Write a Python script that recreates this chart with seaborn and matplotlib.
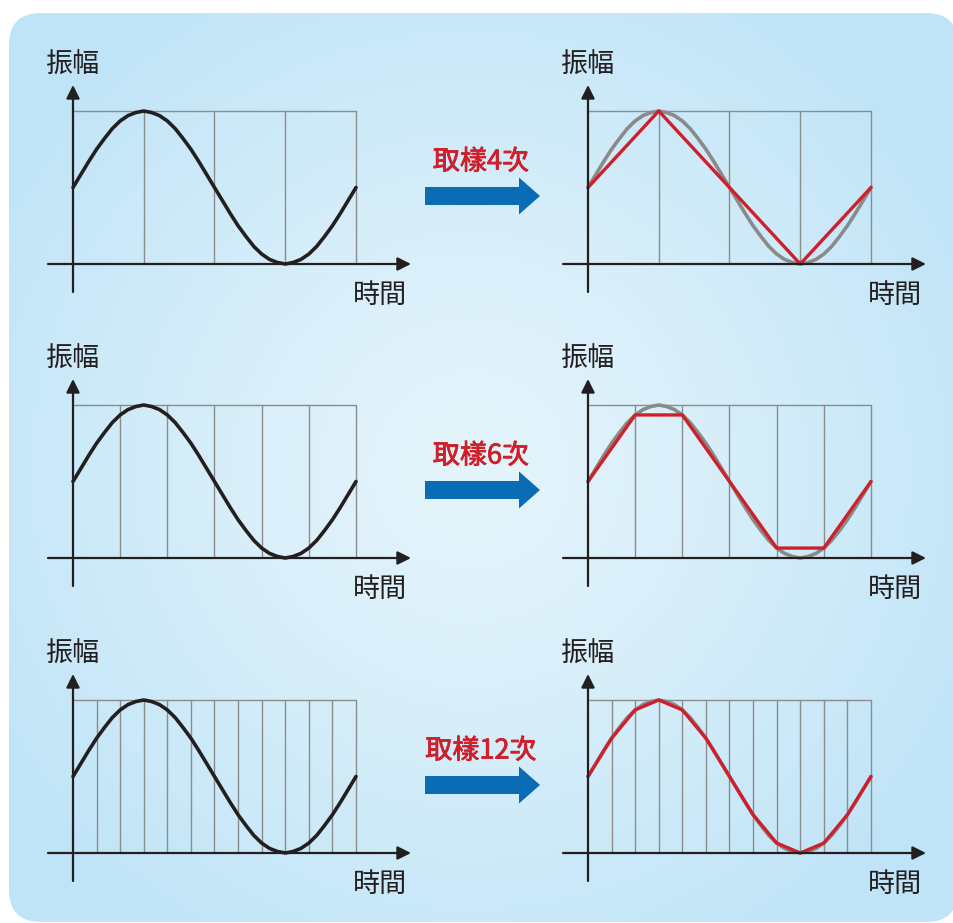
import numpy as np
import pandas as pd
import matplotlib.pyplot as plt
import matplotlib.patheffects as pe
import seaborn as sns
from matplotlib.patches import FancyBboxPatch, FancyArrow

sns.set_style("white")
plt.rcParams['font.family'] = ['Noto Sans CJK TC', 'DejaVu Sans']

# continuous signal, read every 10 degrees over one period
phase_deg = [0, 10, 20, 30, 40, 50, 60, 70, 80, 90, 100, 110, 120, 130, 140, 150, 160, 170, 180,
             190, 200, 210, 220, 230, 240, 250, 260, 270, 280, 290, 300, 310, 320, 330, 340, 350, 360]
amplitude = [0.0, 0.17, 0.34, 0.5, 0.64, 0.77, 0.87, 0.94, 0.98, 1.0,
             0.98, 0.94, 0.87, 0.77, 0.64, 0.5, 0.34, 0.17, 0.0,
             -0.17, -0.34, -0.5, -0.64, -0.77, -0.87, -0.94, -0.98, -1.0,
             -0.98, -0.94, -0.87, -0.77, -0.64, -0.5, -0.34, -0.17, 0.0]

# sampled versions
samples_4_deg = [0, 90, 180, 270, 360]
samples_4_val = [0.0, 1.0, 0.0, -1.0, 0.0]
samples_6_deg = [0, 60, 120, 180, 240, 300, 360]
samples_6_val = [0.0, 0.87, 0.87, 0.0, -0.87, -0.87, 0.0]
samples_12_deg = [0, 30, 60, 90, 120, 150, 180, 210, 240, 270, 300, 330, 360]
samples_12_val = [0.0, 0.5, 0.87, 1.0, 0.87, 0.5, 0.0, -0.5, -0.87, -1.0, -0.87, -0.5, 0.0]

sample_counts = [4, 6, 12]
sample_deg = [samples_4_deg, samples_6_deg, samples_12_deg]
sample_val = [samples_4_val, samples_6_val, samples_12_val]

y_label = "振幅"
x_label = "時間"

W, H = 954, 923
BOX_W, BOX_H = 283, 153          # pixels of the sampling box
row_tops = [111, 405, 700]
left_x0, right_x0 = 73, 588

INK = '#231f20'
GRID = '#8c8c8c'
RED = '#cf1f2b'
BLUE = '#0a6cb5'

signal = pd.DataFrame({'t': phase_deg, 'a': amplitude})

fig = plt.figure(figsize=(W / 100, H / 100), dpi=100)

# background panel with soft gradient
bg = fig.add_axes([0, 0, 1, 1], zorder=0)
bg.set_xlim(0, W)
bg.set_ylim(H, 0)
bg.axis('off')
gx, gy = np.meshgrid(np.arange(W), np.arange(H))
d = np.sqrt(((gx - 470) / 560) ** 2 + ((gy - 470) / 560) ** 2)
d = np.clip(d, 0, 1) ** 1.3
c_mid = np.array([0xe4, 0xf4, 0xfb]) / 255
c_edge = np.array([0xbf, 0xe4, 0xf7]) / 255
img = c_mid + (c_edge - c_mid) * d[..., None]
panel = FancyBboxPatch((9, 13), 949, 909, boxstyle="round,pad=0,rounding_size=32",
                       fc='none', ec='none', transform=bg.transData)
bg.add_patch(panel)
im = bg.imshow(img, extent=(0, W, H, 0), aspect='auto', zorder=0)
im.set_clip_path(panel)

px_deg = BOX_W / 360.0
px_amp = BOX_H / 2.0
PAD_L, PAD_R, PAD_T, PAD_B = 45, 355, 85, 210


def make_panel(x0, top):
    ax = fig.add_axes([(x0 - PAD_L) / W, 1 - (top + PAD_B) / H,
                       (PAD_L + PAD_R) / W, (PAD_T + PAD_B) / H], zorder=2)
    ax.set_facecolor('none')
    ax.axis('off')
    return ax


def draw_frame(ax, grid_deg):
    ax.plot([0, 360], [1, 1], color=GRID, lw=1.0, zorder=1)
    for g in grid_deg[1:]:
        ax.plot([g, g], [-1, 1], color=GRID, lw=1.0, zorder=1)
    ax.annotate('', xy=(338 / px_deg, -1), xytext=(-25 / px_deg, -1),
                arrowprops=dict(arrowstyle='-|>', color=INK, lw=1.6,
                                mutation_scale=20, shrinkA=0, shrinkB=0), zorder=5)
    ax.annotate('', xy=(0, 1 + 26 / px_amp), xytext=(0, -1 - 28 / px_amp),
                arrowprops=dict(arrowstyle='-|>', color=INK, lw=1.6,
                                mutation_scale=20, shrinkA=0, shrinkB=0), zorder=5)
    ax.text(0, 1 + 46 / px_amp, y_label, ha='center', va='center',
            fontsize=19.5, color=INK)
    ax.text(307 / px_deg, -1 - 31 / px_amp, x_label, ha='center', va='center',
            fontsize=19.5, color=INK)


for i, n in enumerate(sample_counts):
    top = row_tops[i]
    samp = pd.DataFrame({'t': sample_deg[i], 'a': sample_val[i]})

    # original signal
    axl = make_panel(left_x0, top)
    draw_frame(axl, sample_deg[i])
    sns.lineplot(data=signal, x='t', y='a', ax=axl, color=INK, lw=2.6,
                 zorder=3, sort=False)

    # sampled signal
    axr = make_panel(right_x0, top)
    draw_frame(axr, sample_deg[i])
    sns.lineplot(data=signal, x='t', y='a', ax=axr, color='#8a8a8a', lw=2.6,
                 zorder=3, sort=False)
    sns.lineplot(data=samp, x='t', y='a', ax=axr, color=RED, lw=2.4,
                 zorder=4, sort=False)
    for a in (axl, axr):
        a.set_xlabel('')
        a.set_ylabel('')
        a.set_xlim(-PAD_L / px_deg, PAD_R / px_deg)
        a.set_ylim(1 - PAD_B / px_amp, 1 + PAD_T / px_amp)

    # arrow and caption between panels
    yc = top + 85
    bg.add_patch(FancyArrow(425, yc, 115, 0, width=18, head_width=37,
                            head_length=21, length_includes_head=True,
                            fc=BLUE, ec='none', zorder=2))
    bg.text(481, top + 51, f"取樣{n}次", ha='center', va='center',
            fontsize=19.5, color=RED, zorder=2,
            path_effects=[pe.withStroke(linewidth=0.6, foreground=RED)])

fig.savefig('out.png', dpi=100)
